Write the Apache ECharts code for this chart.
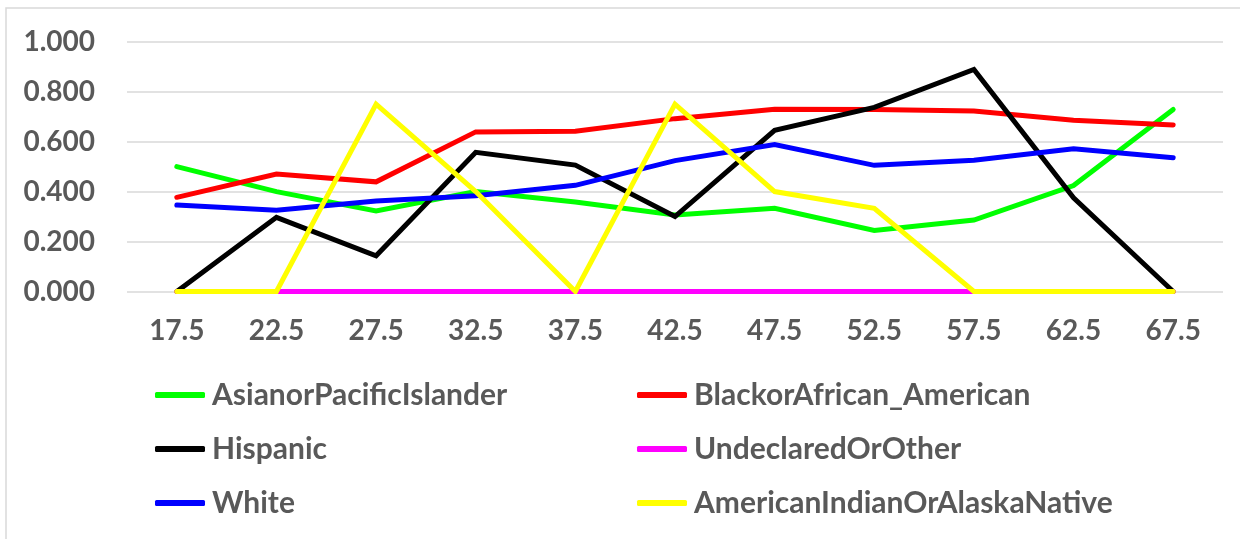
<!DOCTYPE html>
<html>
<head>
<meta charset="utf-8">
<script src="https://cdn.jsdelivr.net/npm/echarts@6/dist/echarts.min.js"></script>
<style>
html,body{margin:0;padding:0;background:#fff;}
#chart{width:1240px;height:539px;}
</style>
</head>
<body>
<div id="chart"></div>
<script>
const categories = ['17.5','22.5','27.5','32.5','37.5','42.5','47.5','52.5','57.5','62.5','67.5'];
const asianPacific = [0.500,0.400,0.322,0.400,0.358,0.306,0.333,0.244,0.286,0.424,0.729];
const blackAfrican = [0.377,0.470,0.439,0.639,0.642,0.692,0.730,0.729,0.723,0.686,0.667];
const hispanic = [0.000,0.297,0.143,0.557,0.506,0.300,0.645,0.737,0.889,0.375,0.000];
const undeclared = [0,0,0,0,0,0,0,0,0,0,0];
const white = [0.346,0.325,0.362,0.383,0.425,0.524,0.588,0.505,0.525,0.571,0.535];
const amIndian = [0.000,0.000,0.750,0.400,0.000,0.750,0.400,0.333,0.000,0.000,0.000];
const yTicks = [0,0.2,0.4,0.6,0.8,1.0];

const seriesDefs = [
  {name:'AsianorPacificIslander', data: asianPacific, color:'#00ff00'},
  {name:'BlackorAfrican_American', data: blackAfrican, color:'#ff0000'},
  {name:'Hispanic', data: hispanic, color:'#000000'},
  {name:'UndeclaredOrOther', data: undeclared, color:'#ff00ff'},
  {name:'White', data: white, color:'#0000ff'},
  {name:'AmericanIndianOrAlaskaNative', data: amIndian, color:'#ffff00'}
];

const FONT = 'Lato';
const TXT = '#595959';

const chart = echarts.init(document.getElementById('chart'), null, {renderer:'canvas'});

function legendCol(names, left){
  return {
    orient:'vertical', left:left, top:375, itemGap:24,
    icon:'roundRect', itemWidth:50, itemHeight:6,
    data:names,
    textStyle:{fontFamily:FONT, fontWeight:'bold', fontSize:30, color:TXT, padding:[0,0,0,2]},
    selectedMode:false
  };
}

chart.setOption({
  animation:false,
  backgroundColor:'#ffffff',
  graphic:[{type:'rect', shape:{x:6,y:8,width:1260,height:560}, style:{fill:'none', stroke:'#d9d9d9', lineWidth:1.5}, silent:true}],
  grid:{left:127, right:17, top:41.7, bottom:247.5, containLabel:false},
  xAxis:{
    type:'category', data:categories, boundaryGap:true,
    axisLine:{show:false}, axisTick:{show:false},
    axisLabel:{fontFamily:FONT, fontWeight:'bold', fontSize:28, color:TXT, margin:25}
  },
  yAxis:{
    type:'value', min:0, max:1, interval:0.2,
    axisLine:{show:false}, axisTick:{show:false},
    splitLine:{lineStyle:{color:'#d9d9d9', width:1.5}},
    axisLabel:{fontFamily:FONT, fontWeight:'bold', fontSize:28, color:TXT, margin:32,
      formatter:v => v.toFixed(3)}
  },
  legend:[
    legendCol(['AsianorPacificIslander','Hispanic','White'], 150),
    legendCol(['BlackorAfrican_American','UndeclaredOrOther','AmericanIndianOrAlaskaNative'], 632)
  ],
  series: seriesDefs.map((s,i)=>({
    name:s.name, type:'line', data:s.data, symbol:'none', showSymbol:false,
    color:s.color, z:2+i,
    lineStyle:{width:5, color:s.color, cap:'round', join:'miter'}
  }))
});
</script>
</body>
</html>
